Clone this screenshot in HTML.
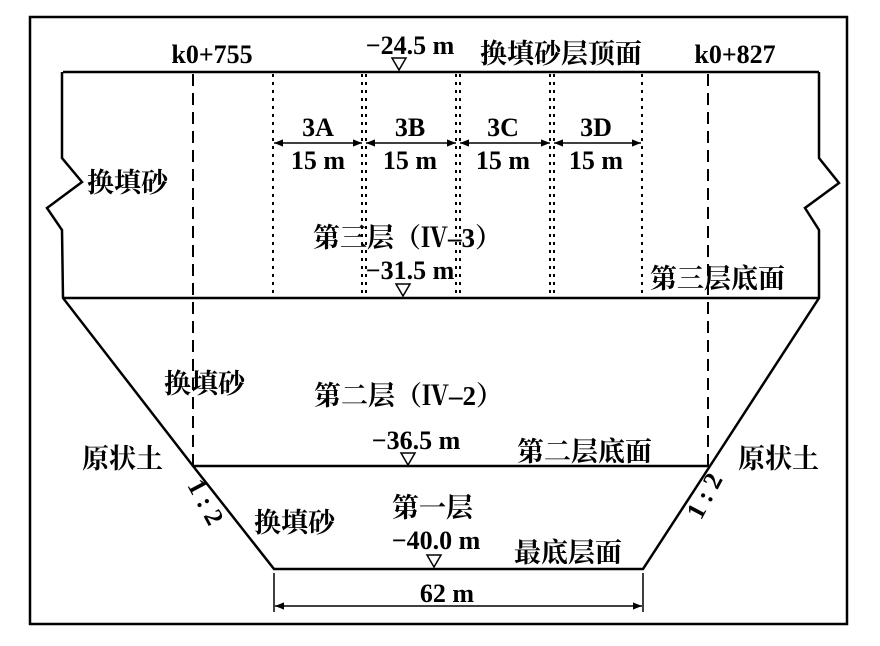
<!DOCTYPE html>
<html><head><meta charset="utf-8"><style>
html,body{margin:0;padding:0;background:#fff;}
svg text{font-family:"Liberation Serif","Noto Serif CJK SC",serif;fill:#000;}
.c{font-size:27px;font-weight:bold;}
.l{font-size:26px;font-weight:bold;}
</style></head><body>
<svg width="880" height="641" viewBox="0 0 880 641" xmlns="http://www.w3.org/2000/svg">
<defs><marker id="a" viewBox="0 0 10 10" refX="10" refY="5" markerWidth="8" markerHeight="6" orient="auto-start-reverse"><path d="M0,1 L10,5 L0,9 Z" fill="#000"/></marker></defs>
<rect x="30" y="17" width="817" height="607" fill="none" stroke="#000" stroke-width="2.5"/>
<g fill="none" stroke="#000" stroke-width="2.5">
<path d="M63,72 L819,72"/>
<path d="M62,72 L62,158 L82,182 L47,208 L62,230 L63,298 L193,466 L274,569 L643,569 L710,466 L819,298 L819,230 L805,208 L839,183 L819,158 L819,72"/>
<path d="M63,298 L819,298"/>
<path d="M193,466 L710,466"/>
</g>
<g stroke="#000" stroke-width="2" stroke-dasharray="12,7">
<path d="M193,74 V466"/><path d="M708,74 V466"/>
</g>
<g stroke="#000" stroke-width="2" stroke-dasharray="3,5">
<path d="M273,74 V298"/><path d="M362,74 V298"/><path d="M366,74 V298"/>
<path d="M456,74 V298"/><path d="M460,74 V298"/><path d="M550,74 V298"/><path d="M554,74 V298"/><path d="M642,74 V298"/>
</g>
<g stroke="#000" stroke-width="1.5" marker-start="url(#a)" marker-end="url(#a)">
<line x1="274" y1="143" x2="362" y2="143"/><line x1="366" y1="143" x2="456" y2="143"/>
<line x1="460" y1="143" x2="550" y2="143"/><line x1="554" y1="143" x2="641" y2="143"/>
<line x1="275" y1="606" x2="642" y2="606"/>
</g>
<g stroke="#000" stroke-width="1.5"><line x1="274" y1="573" x2="274" y2="612"/><line x1="643" y1="573" x2="643" y2="612"/></g>
<g fill="none" stroke="#000" stroke-width="1.5">
<path d="M392,58 L406,58 L399,70 Z"/><path d="M396,284 L410,284 L403,296 Z"/>
<path d="M401,453 L415,453 L408,465 Z"/><path d="M427,555 L441,555 L434,567 Z"/>
</g>
<g class="l">
<text x="212" y="63" text-anchor="middle">k0+755</text>
<text x="735" y="63" text-anchor="middle">k0+827</text>
<text x="410" y="54" text-anchor="middle">−24.5 m</text>
<text x="318" y="136" text-anchor="middle">3A</text><text x="318" y="169" text-anchor="middle">15 m</text>
<text x="410" y="136" text-anchor="middle">3B</text><text x="410" y="169" text-anchor="middle">15 m</text>
<text x="503" y="136" text-anchor="middle">3C</text><text x="503" y="169" text-anchor="middle">15 m</text>
<text x="596" y="136" text-anchor="middle">3D</text><text x="596" y="169" text-anchor="middle">15 m</text>
<text x="410" y="279" text-anchor="middle">−31.5 m</text>
<text x="416" y="449" text-anchor="middle">−36.5 m</text>
<text x="436" y="549" text-anchor="middle">−40.0 m</text>
<text x="447" y="602" text-anchor="middle">62 m</text>
</g>
<g class="c">
<text x="480" y="63">换填砂层顶面</text>
<text x="87" y="192">换填砂</text>
<text x="313" y="247">第三层（Ⅳ–3）</text>
<text x="650" y="288">第三层底面</text>
<text x="164" y="393">换填砂</text>
<text x="314" y="405">第二层（Ⅳ–2）</text>
<text x="517" y="461">第二层底面</text>
<text x="82" y="468">原状土</text>
<text x="738" y="468">原状土</text>
<text x="254" y="532">换填砂</text>
<text x="392" y="517">第一层</text>
<text x="514" y="562">最底层面</text>
</g>
<text class="l" transform="translate(198,506) rotate(62)" text-anchor="middle">1 : 2</text>
<text class="l" transform="translate(712,500) rotate(-62)" text-anchor="middle">1 : 2</text>
</svg>
</body></html>
